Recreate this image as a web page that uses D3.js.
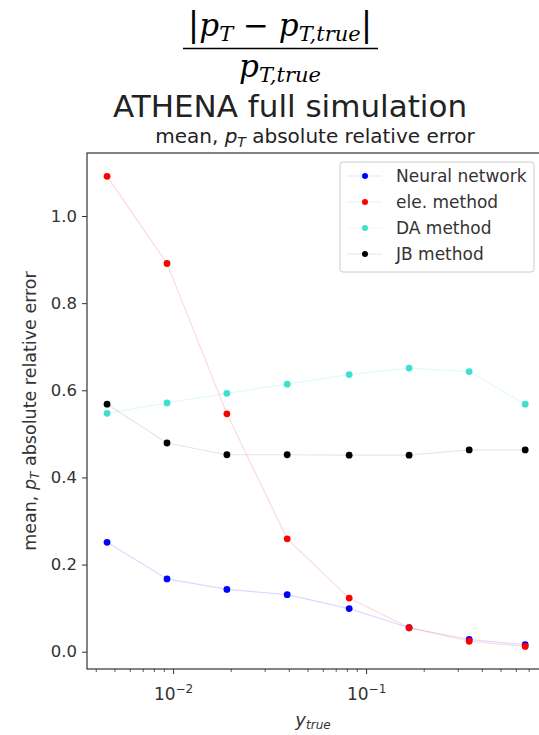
<!DOCTYPE html>
<html>
<head>
<meta charset="utf-8">
<script src="https://cdn.jsdelivr.net/npm/d3@7"></script>
<style>
  body { margin: 0; background: #fff; }
</style>
</head>
<body>
<script>
const width = 539;
const height = 735;

// y_true bins (log scale)
const xValues = [0.00455, 0.0093, 0.019, 0.039, 0.0817, 0.167, 0.342, 0.667];

const nnValues = [0.251, 0.167, 0.143, 0.131, 0.099, 0.055, 0.028, 0.016];
const eleValues = [1.091, 0.891, 0.546, 0.259, 0.123, 0.055, 0.024, 0.012];
const daValues = [0.547, 0.571, 0.593, 0.614, 0.636, 0.651, 0.643, 0.568];
const jbValues = [0.568, 0.479, 0.452, 0.452, 0.451, 0.451, 0.463, 0.463];

const seriesNames = ["Neural network", "ele. method", "DA method", "JB method"];
const seriesColors = ["#0000ff", "#ff0000", "#40e0d0", "#000000"];
const seriesValues = [nnValues, eleValues, daValues, jbValues];

const yTicks = [0.0, 0.2, 0.4, 0.6, 0.8, 1.0];
const xMajorTicks = [0.01, 0.1];

const plot = {left: 87, right: 546, top: 153, bottom: 669};
const sans = "'DejaVu Sans', sans-serif";
const serif = "'DejaVu Serif', serif";

const svg = d3.select("body").append("svg")
    .attr("width", width)
    .attr("height", height)
    .attr("font-family", sans);

const x = d3.scaleLog()
    .domain([Math.pow(10, -2.446), Math.pow(10, -0.068)])
    .range([plot.left, plot.right]);

const y = d3.scaleLinear()
    .domain([-0.0397, 1.1446])
    .range([plot.bottom, plot.top]);

// fraction title (LaTeX style)
const num = svg.append("text")
    .attr("x", 280).attr("y", 36)
    .attr("text-anchor", "middle")
    .attr("font-family", serif)
    .attr("font-style", "italic")
    .attr("font-size", 31);
num.append("tspan").attr("font-style", "normal").attr("font-size", 34).text("|");
num.append("tspan").text("p");
num.append("tspan").attr("font-size", 21).attr("dy", 5).text("T");
num.append("tspan").attr("font-style", "normal").attr("dy", -5).text(" − ");
num.append("tspan").text("p");
num.append("tspan").attr("font-size", 21).attr("dy", 5).text("T,true");
num.append("tspan").attr("font-style", "normal").attr("font-size", 34).attr("dy", -5).text("|");

svg.append("line")
    .attr("x1", 183).attr("x2", 378)
    .attr("y1", 48.5).attr("y2", 48.5)
    .attr("stroke", "#000").attr("stroke-width", 1.4);

const den = svg.append("text")
    .attr("x", 280).attr("y", 77)
    .attr("text-anchor", "middle")
    .attr("font-family", serif)
    .attr("font-style", "italic")
    .attr("font-size", 31);
den.append("tspan").text("p");
den.append("tspan").attr("font-size", 21).attr("dy", 5).text("T,true");

svg.append("text")
    .attr("x", 290).attr("y", 117)
    .attr("text-anchor", "middle")
    .attr("font-size", 31)
    .attr("fill", "#222")
    .text("ATHENA full simulation");

const sub = svg.append("text")
    .attr("x", 315).attr("y", 143)
    .attr("text-anchor", "middle")
    .attr("font-size", 20)
    .attr("fill", "#222");
sub.append("tspan").text("mean, ");
sub.append("tspan").attr("font-style", "italic").text("p");
sub.append("tspan").attr("font-style", "italic").attr("font-size", 14).attr("dy", 4).text("T");
sub.append("tspan").attr("dy", -4).text(" absolute relative error");

// axes
const yAxis = d3.axisLeft(y).tickValues(yTicks).tickFormat(d3.format(".1f")).tickSize(5).tickPadding(5);
const gy = svg.append("g").attr("transform", `translate(${plot.left},0)`).call(yAxis);

const xAxis = d3.axisBottom(x).tickValues(xMajorTicks).tickSize(5).tickPadding(8).tickFormat("");
const gx = svg.append("g").attr("transform", `translate(0,${plot.bottom})`).call(xAxis);

// 10^n labels
gx.selectAll(".tick").each(function(d) {
    const t = d3.select(this).append("text")
        .attr("y", 31)
        .attr("text-anchor", "middle")
        .attr("font-size", 17)
        .attr("font-family", sans)
        .attr("fill", "#333");
    t.append("tspan").text("10");
    t.append("tspan").attr("font-size", 12).attr("dy", -7).text("−" + Math.round(-Math.log10(d)));
});

// minor ticks
const minorTicks = [];
[0.001, 0.01, 0.1].forEach(dec => {
    for (let k = 2; k <= 9; k++) {
        const v = dec * k;
        if (x(v) >= plot.left && x(v) <= plot.right) minorTicks.push(v);
    }
});
svg.append("g").selectAll("line")
    .data(minorTicks)
    .enter().append("line")
    .attr("x1", d => x(d)).attr("x2", d => x(d))
    .attr("y1", plot.bottom).attr("y2", plot.bottom + 3)
    .attr("stroke", "#333").attr("stroke-width", 0.8);

[gx, gy].forEach(g => {
    g.select(".domain").remove();
    g.selectAll("line").attr("stroke", "#333");
});
gy.selectAll("text").attr("font-size", 16.5).attr("fill", "#333").attr("font-family", sans);

svg.append("rect")
    .attr("x", plot.left).attr("y", plot.top)
    .attr("width", plot.right - plot.left).attr("height", plot.bottom - plot.top)
    .attr("fill", "none").attr("stroke", "#333").attr("stroke-width", 1.2);

// axis labels
const yl = svg.append("text")
    .attr("transform", `translate(36,${(plot.top + plot.bottom) / 2}) rotate(-90)`)
    .attr("text-anchor", "middle")
    .attr("font-size", 17.5)
    .attr("fill", "#333");
yl.append("tspan").text("mean, ");
yl.append("tspan").attr("font-style", "italic").text("p");
yl.append("tspan").attr("font-style", "italic").attr("font-size", 12).attr("dy", 3).text("T");
yl.append("tspan").attr("dy", -3).text(" absolute relative error");

const xl = svg.append("text")
    .attr("x", 313).attr("y", 726)
    .attr("text-anchor", "middle")
    .attr("font-style", "italic")
    .attr("font-size", 18)
    .attr("fill", "#333");
xl.append("tspan").text("y");
xl.append("tspan").attr("font-size", 12).attr("dy", 3).text("true");

// series
const line = d3.line()
    .x((d, i) => x(xValues[i]))
    .y(d => y(d));

seriesValues.forEach((vals, s) => {
    svg.append("path")
        .datum(vals)
        .attr("d", line)
        .attr("fill", "none")
        .attr("stroke", seriesColors[s])
        .attr("stroke-opacity", s === 3 ? 0.1 : 0.15)
        .attr("stroke-width", 1.2);
});
seriesValues.forEach((vals, s) => {
    svg.append("g").selectAll("circle")
        .data(vals)
        .enter().append("circle")
        .attr("cx", (d, i) => x(xValues[i]))
        .attr("cy", d => y(d))
        .attr("r", 3.4)
        .attr("fill", seriesColors[s]);
});

// legend
const legend = svg.append("g");
legend.append("rect")
    .attr("x", 340).attr("y", 162)
    .attr("width", 194).attr("height", 110)
    .attr("rx", 3)
    .attr("fill", "#fff").attr("fill-opacity", 0.8)
    .attr("stroke", "#ccc");
seriesNames.forEach((name, s) => {
    const ly = 176 + s * 26;
    legend.append("line")
        .attr("x1", 347).attr("x2", 382)
        .attr("y1", ly).attr("y2", ly)
        .attr("stroke", seriesColors[s]).attr("stroke-opacity", 0.1).attr("stroke-width", 1.2);
    legend.append("circle")
        .attr("cx", 365).attr("cy", ly).attr("r", 3)
        .attr("fill", seriesColors[s]);
    legend.append("text")
        .attr("x", 396).attr("y", ly + 6)
        .attr("font-size", 17)
        .attr("fill", "#333")
        .text(name);
});
</script>
</body>
</html>
